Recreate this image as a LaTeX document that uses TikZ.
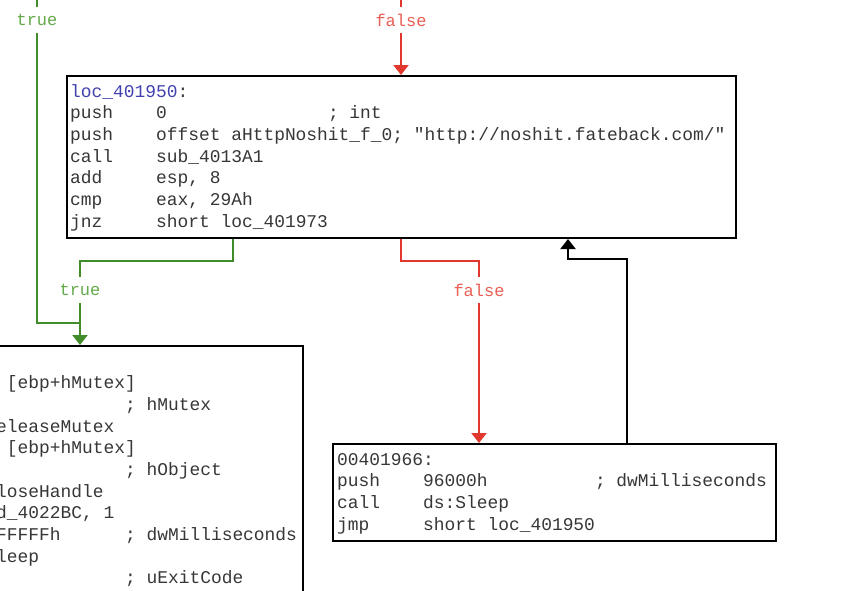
\documentclass[tikz,border=0pt]{standalone}
\usepackage{fontspec}
\setmonofont{Liberation Mono}
\usetikzlibrary{arrows.meta,calc}
\definecolor{lgreen}{RGB}{64,140,40}
\definecolor{tgreen}{RGB}{100,170,75}
\definecolor{lred}{RGB}{226,55,45}
\definecolor{tred}{RGB}{232,95,85}
\definecolor{locblue}{RGB}{65,65,175}
\definecolor{asmtext}{RGB}{55,55,55}
\begin{document}
\begin{tikzpicture}[x=1pt,y=-1pt,
  box/.style={draw=black,line width=2pt,fill=white,inner sep=0pt,anchor=north west},
  asm/.style={anchor=base west,inner sep=0pt,text=asmtext,font=\ttfamily\fontsize{17.9}{21.7}\selectfont},
  lab/.style={fill=white,inner xsep=2pt,inner ysep=7pt,font=\ttfamily\fontsize{17}{20}\selectfont},
  conn/.style={line width=2pt},
  tip/.style={-{Triangle[width=15pt,length=10pt]}}]
\useasboundingbox (0,0) rectangle (854,590);
\clip (0,0) rectangle (854,590);

% ---------- boxes ----------
\node[box,minimum width=669pt,minimum height=162pt] (main) at (66,75) {};
\node[box,minimum width=502pt,minimum height=400pt] (lbox) at (-200,345) {};
\node[box,minimum width=443pt,minimum height=97pt] (sbox) at (332,443) {};

% ---------- main box text ----------
\node[asm] (m0) at (70,97)    {{\color{locblue}loc\_401950}:};
\node[asm] (m1) at (70,118.7) {push~~~~0~~~~~~~~~~~~~~~; int};
\node[asm] (m2) at (70,140.3) {push~~~~offset aHttpNoshit\_f\_0; "http://noshit.fateback.com/"};
\node[asm] (m3) at (70,162)   {call~~~~sub\_4013A1};
\node[asm] (m4) at (70,183.7) {add~~~~~esp, 8};
\node[asm] (m5) at (70,205.3) {cmp~~~~~eax, 29Ah};
\node[asm] (m6) at (70,227)   {jnz~~~~~short loc\_401973};

% ---------- left box text (visible part) ----------
\node[asm] (l1)  at (6.75,388.7) {[ebp+hMutex]};
\node[asm] (l2)  at (125,410.3)  {; hMutex};
\node[asm] (l3)  at (-4,432)     {eleaseMutex};
\node[asm] (l4)  at (6.75,453.7) {[ebp+hMutex]};
\node[asm] (l5)  at (125,475.3)  {; hObject};
\node[asm] (l6)  at (-4,497)     {loseHandle};
\node[asm] (l7)  at (-4,518.7)   {d\_4022BC, 1};
\node[asm] (l8)  at (-4,540.3)   {FFFFFh~~~~~~; dwMilliseconds};
\node[asm] (l9)  at (-4,562)     {leep};
\node[asm] (l10) at (125,583.7)  {; uExitCode};

% ---------- sleep box text ----------
\node[asm] (s0) at (337,465)   {00401966:};
\node[asm] (s1) at (337,486.7) {push~~~~96000h~~~~~~~~~~; dwMilliseconds};
\node[asm] (s2) at (337,508.3) {call~~~~ds:Sleep};
\node[asm] (s3) at (337,530)   {jmp~~~~~short loc\_401950};

% ---------- connector points ----------
\coordinate (gtop) at (37,-5);
\coordinate (rtop) at (401,-5);
\coordinate (gjoin) at (80,323);
\coordinate (g1) at ($(main.south west)+(167,0)$);
\coordinate (r1) at ($(main.south west)+(335,0)$);
\coordinate (mtop) at ($(main.north west)+(335,0)$);
\coordinate (mback) at ($(main.south west)+(502,0)$);
\coordinate (ltop) at ($(lbox.north west)+(280,0)$);
\coordinate (stop) at ($(sbox.north west)+(147,0)$);
\coordinate (sback) at ($(sbox.north west)+(295,0)$);

% ---------- connectors ----------
\draw[conn,lgreen] (gtop) |- (gjoin);
\draw[conn,lgreen,tip] (g1) -- ++(0,22) -| (ltop);
\draw[conn,lred,tip] (rtop) -- (mtop);
\draw[conn,lred,tip] (r1) -- ++(0,22) -| (stop);
\draw[conn,black,tip] (sback) -- ++(0,-184) -| (mback);

% ---------- labels ----------
\node[lab,text=tgreen] (t1) at (37,20) {true};
\node[lab,text=tred] (f1) at (401,20) {false};
\node[lab,text=tgreen] (t2) at (80,290) {true};
\node[lab,text=tred] (f2) at (479,290) {false};
\end{tikzpicture}
\end{document}
